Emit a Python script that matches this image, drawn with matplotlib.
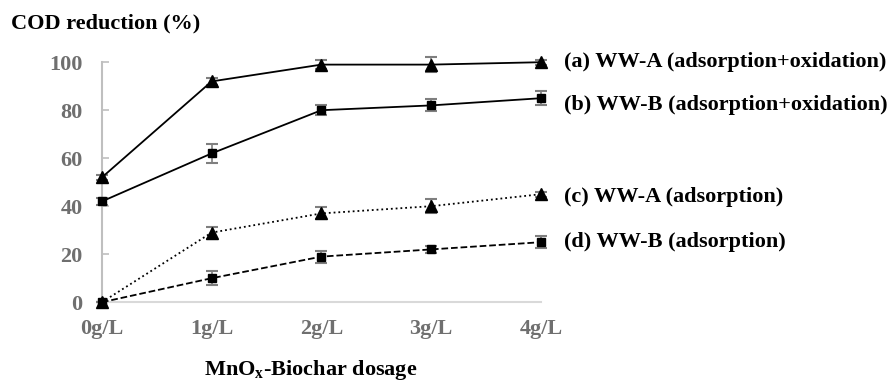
import matplotlib
matplotlib.use("Agg")
import matplotlib.pyplot as plt

plt.rcParams["font.family"] = ["Liberation Serif", "DejaVu Serif"]
plt.rcParams["font.weight"] = "bold"
plt.rcParams["mathtext.fontset"] = "custom"
plt.rcParams["mathtext.rm"] = "Liberation Serif"
plt.rcParams["mathtext.bf"] = "Liberation Serif:bold"

DOSAGES = ["0g/L", "1g/L", "2g/L", "3g/L", "4g/L"]

WW_A_OX = [52, 92, 99, 99, 100]
WW_A_OX_ERR = [1.0, 1.5, 2.0, 3.0, 1.0]
WW_B_OX = [42, 62, 80, 82, 85]
WW_B_OX_ERR = [1.5, 4.0, 2.0, 2.5, 3.0]
WW_A_AD = [0, 29, 37, 40, 45]
WW_A_AD_ERR = [0.0, 2.5, 2.5, 3.0, 1.0]
WW_B_AD = [0, 10, 19, 22, 25]
WW_B_AD_ERR = [0.0, 3.0, 2.5, 1.5, 2.5]

LABELS = [
    "(a) WW-A (adsorption+oxidation)",
    "(b) WW-B (adsorption+oxidation)",
    "(c) WW-A (adsorption)",
    "(d) WW-B (adsorption)",
]

# line style, marker, marker size, vertical label nudge (points)
SERIES = [
    (WW_A_OX, WW_A_OX_ERR, "-", "^", 8, 0),
    (WW_B_OX, WW_B_OX_ERR, "-", "s", 6, -5),
    (WW_A_AD, WW_A_AD_ERR, ":", "^", 8, -2),
    (WW_B_AD, WW_B_AD_ERR, "--", "s", 6, 0),
]

TICK_GREY = "#6f6f6f"
FS = 16

fig = plt.figure(figsize=(8.94, 3.84), dpi=100)
ax = fig.add_axes([0.114, 0.213, 0.491, 0.625])

x = list(range(len(DOSAGES)))
for (values, errors, ls, marker, ms, dy), label in zip(SERIES, LABELS):
    ax.errorbar(x, values, yerr=errors, fmt="none", ecolor="#7f7f7f",
                elinewidth=1.2, capsize=4, capthick=1.5, clip_on=False, zorder=2)
    ax.plot(x, values, linestyle=ls, color="black", linewidth=1.3,
            marker=marker, markersize=ms, clip_on=False, zorder=3)
    ax.annotate(label, xy=(x[-1], values[-1]), xytext=(17, dy),
                textcoords="offset points", va="center", ha="left",
                fontsize=FS, fontweight="bold", color="black",
                annotation_clip=False)

ax.set_xlim(0, 4)
ax.set_ylim(0, 100)
ax.set_xticks(x)
ax.set_xticklabels(DOSAGES)
ax.set_yticks([0, 20, 40, 60, 80, 100])
ax.tick_params(axis="y", direction="in", length=5, width=1.2, color="#bfbfbf",
               labelsize=FS, labelcolor=TICK_GREY, pad=14)
ax.tick_params(axis="x", length=0, labelsize=FS, labelcolor=TICK_GREY, pad=12)

for side in ["top", "right"]:
    ax.spines[side].set_visible(False)
ax.spines["left"].set_color("#bfbfbf")
ax.spines["left"].set_linewidth(1.5)
ax.spines["bottom"].set_color("#d9d9d9")
ax.spines["bottom"].set_linewidth(1.5)

fig.text(0.012, 0.94, "COD reduction (%)", fontsize=FS, fontweight="bold",
         ha="left", va="center")
fig.text(0.347, 0.037, "MnO$_\\mathbf{x}$-Biochar dosage", fontsize=FS,
         fontweight="bold", ha="center", va="center")

fig.savefig("out.png", dpi=100)
